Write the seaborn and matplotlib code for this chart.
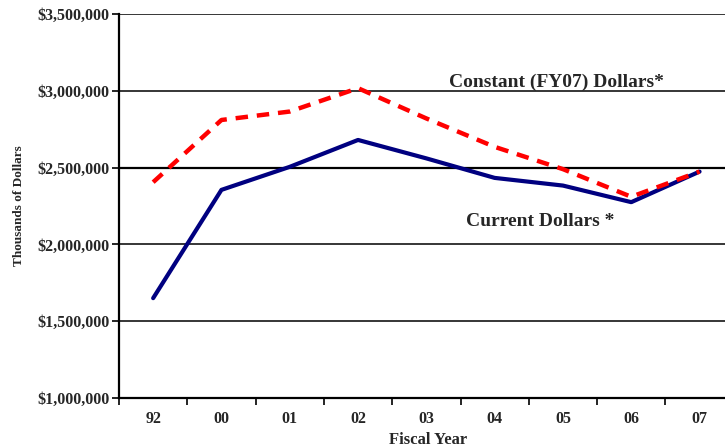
import numpy as np
import pandas as pd
import matplotlib
matplotlib.use("Agg")
import matplotlib.pyplot as plt
import seaborn as sns
from matplotlib.ticker import FuncFormatter, FixedLocator

years = ["92", "00", "01", "02", "03", "04", "05", "06", "07"]
current = [1650000, 2355000, 2505000, 2680000, 2560000, 2433000, 2383000, 2275000, 2474000]
constant = [2405000, 2810000, 2865000, 3017000, 2820000, 2635000, 2490000, 2310000, 2474000]

sns.set_theme(style="white")
plt.rcParams["font.family"] = ["Liberation Serif", "DejaVu Serif"]
plt.rcParams["font.weight"] = "bold"

pos = np.arange(len(years))
df = pd.DataFrame({"pos": np.concatenate([pos, pos]),
                   "value": current + constant,
                   "series": ["Current"] * len(years) + ["Constant"] * len(years)})

fig = plt.figure(figsize=(7.25, 4.48), dpi=100)
ax = fig.add_axes([119 / 725, 1 - 398 / 448, 1 - 119 / 725, (398 - 14) / 448])

ax.set_ylim(1000000, 3500000)
ax.set_xlim(-0.5, (725 - 119) / 68.3 - 0.5)

for v in [1500000, 2000000, 2500000, 3000000, 3500000]:
    ax.axhline(v, color="black", lw=1.1 if v != 2500000 else 1.6, zorder=1)

sns.lineplot(data=df[df.series == "Current"], x="pos", y="value", ax=ax,
             color="#000080", lw=3.0, zorder=3, legend=False)
sns.lineplot(data=df[df.series == "Constant"], x="pos", y="value", ax=ax,
             color="#ff0000", lw=3.2, zorder=4, legend=False)
ax.lines[-1].set_dashes([2.8, 2.0])

ax.set_yticks([1000000, 1500000, 2000000, 2500000, 3000000, 3500000])
ax.yaxis.set_major_formatter(FuncFormatter(lambda v, p: "${:,.0f}".format(v)))
ax.tick_params(axis="y", which="major", direction="out", length=5, width=1.2,
               color="black", labelsize=11.5, pad=2, left=True)
ax.xaxis.set_major_locator(FixedLocator(pos))
ax.set_xticklabels(years)
ax.xaxis.set_minor_locator(FixedLocator(np.arange(len(years) + 1) - 0.5))
ax.tick_params(axis="x", which="major", length=0, labelsize=11.5, pad=9.5)
ax.tick_params(axis="x", which="minor", direction="out", length=5, width=1.2,
               color="black", bottom=True)
for lab in ax.get_xticklabels() + ax.get_yticklabels():
    lab.set_fontweight("bold")

for s in ["top", "right"]:
    ax.spines[s].set_visible(False)
for s in ["left", "bottom"]:
    ax.spines[s].set_color("black")
    ax.spines[s].set_linewidth(1.6)

ax.set_xlabel("Fiscal Year", fontsize=12, fontweight="bold")
ax.xaxis.set_label_coords((428 - 119) / 606, -0.089)
ax.set_ylabel("Thousands of Dollars", fontsize=9.5, fontweight="bold")
ax.yaxis.set_label_coords(-0.155, 0.5)

ax.text(5.9, 3057000, "Constant (FY07) Dollars*", fontsize=14, fontweight="bold",
        ha="center", va="center")
ax.text(5.66, 2152000, "Current Dollars *", fontsize=14, fontweight="bold",
        ha="center", va="center")

fig.savefig("out.png", dpi=100)
